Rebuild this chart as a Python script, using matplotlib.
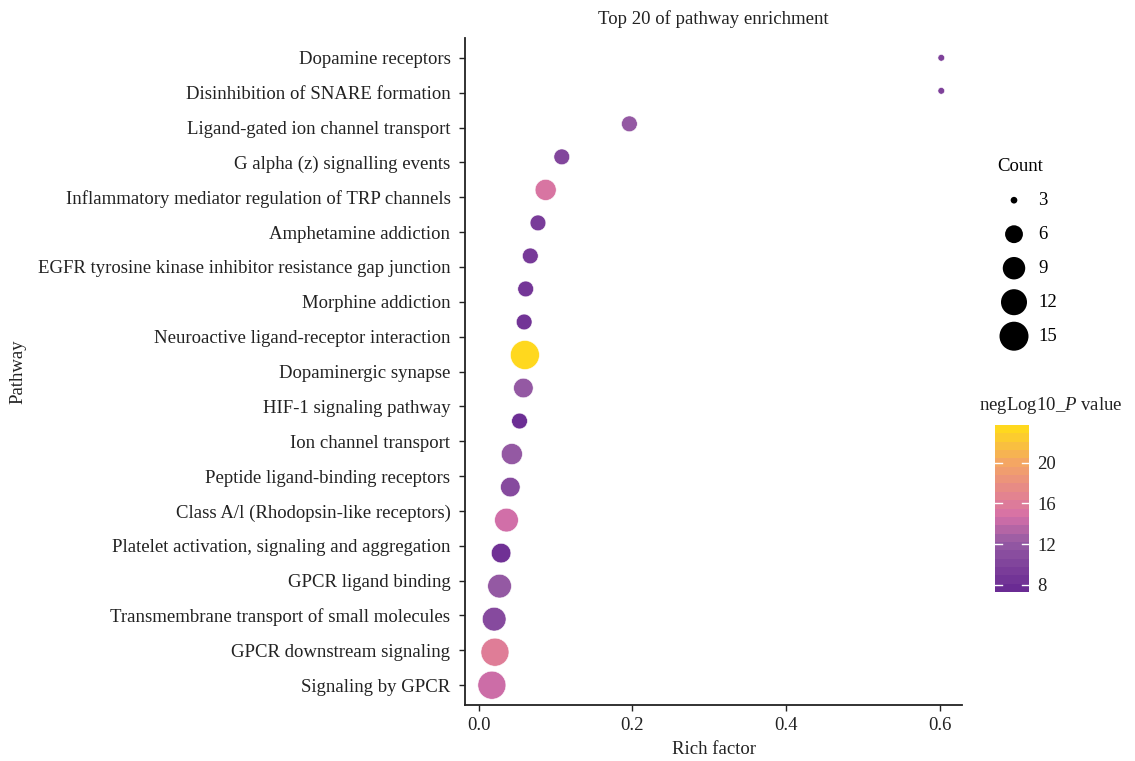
import numpy as np
import matplotlib
matplotlib.use("Agg")
import matplotlib.pyplot as plt
from matplotlib.colors import LinearSegmentedColormap, Normalize
from matplotlib.cm import ScalarMappable

plt.rcParams['font.family'] = ['Liberation Serif', 'DejaVu Serif']
plt.rcParams['mathtext.fontset'] = 'custom'
plt.rcParams['mathtext.rm'] = 'Liberation Serif'
plt.rcParams['mathtext.it'] = 'Liberation Serif:italic'

# tick labels on the pathway axis (as printed in the figure)
pathway_labels = [
    "Dopamine receptors",
    "Disinhibition of SNARE formation",
    "Ligand-gated ion channel transport",
    "G alpha (z) signalling events",
    "Inflammatory mediator regulation of TRP channels",
    "Amphetamine addiction",
    "EGFR tyrosine kinase inhibitor resistance gap junction",
    "Morphine addiction",
    "Neuroactive ligand-receptor interaction",
    "Dopaminergic synapse",
    "HIF-1 signaling pathway",
    "Ion channel transport",
    "Peptide ligand-binding receptors",
    "Class A/l (Rhodopsin-like receptors)",
    "Platelet activation, signaling and aggregation",
    "GPCR ligand binding",
    "Transmembrane transport of small molecules",
    "GPCR downstream signaling",
    "Signaling by GPCR",
]

# one value per dot row, top to bottom
rich_factor = [0.602, 0.602, 0.196, 0.108, 0.087, 0.077, 0.067, 0.061, 0.059, 0.060,
               0.058, 0.053, 0.043, 0.041, 0.036, 0.029, 0.027, 0.020, 0.021, 0.017]
count = [3, 3, 5, 5, 8, 5, 5, 5, 5, 15,
         7, 5, 8, 7, 10, 7, 10, 10, 14, 14]
neglog10_p = [9.5, 9.5, 12.0, 10.0, 15.2, 9.0, 8.8, 8.5, 8.2, 23.7,
              12.0, 7.6, 12.0, 10.5, 14.5, 8.0, 12.0, 10.5, 16.2, 14.3]

legend_counts = [3, 6, 9, 12, 15]
cbar_ticks = [8, 12, 16, 20]

cmap = LinearSegmentedColormap.from_list(
    "pp", [(0.0, "#6A2B93"), (0.29, "#955AA3"), (0.45, "#D570A8"),
           (0.6, "#E5868C"), (0.78, "#F3A466"), (1.0, "#FFD81E")])
norm = Normalize(vmin=7.3, vmax=23.7)


def dot_size(n):
    # diameter in px, area-style scaling between 3 and 15
    d_px = 6.7 + 22.3 * np.sqrt((np.asarray(n, float) - 3) / 12.0)
    return (d_px * 0.72) ** 2


FS = 13.5
W, H = 1135, 761
fig = plt.figure(figsize=(W / 100, H / 100), dpi=100)
ax = fig.add_axes([465 / W, 1 - 705 / H, (962 - 465) / W, (705 - 38) / H])

y = np.arange(len(rich_factor))
ax.scatter(rich_factor, y, s=dot_size(count), c=neglog10_p, cmap=cmap, norm=norm,
           edgecolors='white', linewidths=0.4, zorder=3)

ax.set_xlim(-0.018, 0.629)
ax.set_ylim(19.6, -0.6)
ax.set_xticks([0.0, 0.2, 0.4, 0.6])
ax.set_xticklabels(["0.0", "0.2", "0.4", "0.6"])
ax.set_yticks(np.linspace(0, len(rich_factor) - 1, len(pathway_labels)))
ax.set_yticklabels(pathway_labels)
ax.tick_params(axis='both', labelsize=FS, color='#222222', length=4.5, width=1.0,
               labelcolor='#222222')
ax.tick_params(axis='y', pad=6)
ax.tick_params(axis='x', pad=4)
for s in ['top', 'right']:
    ax.spines[s].set_visible(False)
for s in ['left', 'bottom']:
    ax.spines[s].set_linewidth(1.3)
    ax.spines[s].set_color('#222222')

ax.set_xlabel("Rich factor", fontsize=FS, labelpad=5, color='#222222')
ax.set_ylabel("Pathway", fontsize=FS, color='#222222')
ax.yaxis.set_label_coords(-(465 - 26) / (962 - 465), 0.5)
ax.set_title("Top 20 of pathway enrichment", fontsize=FS, pad=10, color='#222222')

# size legend
handles = [ax.scatter([], [], s=dot_size(n), c='black', edgecolors='none') for n in legend_counts]
leg = fig.legend(handles, [str(n) for n in legend_counts], title="Count",
                 loc='upper left', bbox_to_anchor=(984 / W, 1 - 145 / H),
                 frameon=False, fontsize=FS, title_fontsize=FS,
                 labelspacing=0.9, handletextpad=0.4, borderpad=0.2,
                 alignment='left', handlelength=1.8)

# colour bar
cax = fig.add_axes([995 / W, 1 - 592 / H, 34 / W, (592 - 425) / H])
sm = ScalarMappable(norm=norm, cmap=cmap.resampled(20))
cb = fig.colorbar(sm, cax=cax, ticks=cbar_ticks)
cb.outline.set_visible(False)
cb.ax.tick_params(length=0, labelsize=FS, pad=6, labelcolor='#222222')
for t in cbar_ticks:
    cax.plot([0, 0.22], [t, t], transform=cax.get_yaxis_transform(), color='white', lw=1)
    cax.plot([0.78, 1], [t, t], transform=cax.get_yaxis_transform(), color='white', lw=1)
fig.text(979 / W, 1 - 405 / H, r"negLog10_$\mathit{P}$ value", fontsize=FS,
         ha='left', va='center', color='#222222')

fig.savefig("out.png", dpi=100)
